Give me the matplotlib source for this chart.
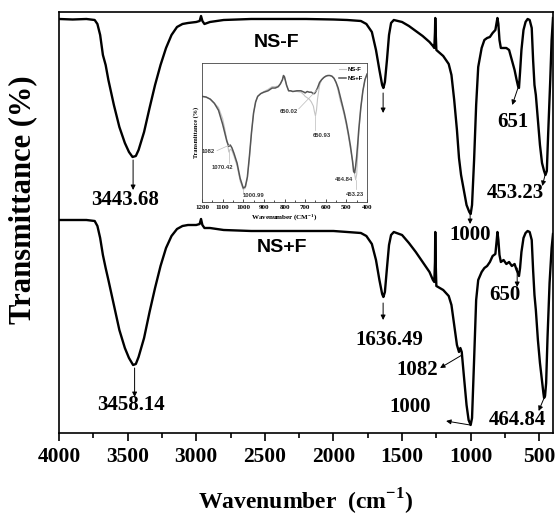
"""FTIR spectra of NS-F and NS+F with an inset zoom of the 1200-400 cm-1 region."""

import numpy as np
import matplotlib
matplotlib.use("Agg")
import matplotlib.pyplot as plt

plt.rcParams["mathtext.fontset"] = "custom"
plt.rcParams["mathtext.rm"] = "Liberation Serif"
plt.rcParams["mathtext.bf"] = "Liberation Serif:bold"

SERIF = "Liberation Serif"
SANS = "Liberation Sans"

# ---- main spectra (transmittance, arbitrary units) ----
wn_nsf = [4000, 3900, 3800, 3740, 3720, 3700, 3680, 3660, 3640, 3600, 3560, 3520,
          3490, 3464, 3440, 3420, 3380, 3340, 3300, 3260, 3220, 3180, 3140, 3100,
          3060, 3000, 2975, 2965, 2955, 2940, 2900, 2800, 2600, 2400, 2200, 2000,
          1900, 1800, 1760, 1720, 1690, 1665, 1645, 1636, 1625, 1610, 1595, 1580,
          1560, 1500, 1450, 1400, 1350, 1300, 1275, 1265, 1260, 1258, 1255, 1250,
          1200, 1160, 1140, 1120, 1100, 1085, 1070, 1050, 1030, 1010, 1000, 990,
          975, 960, 945, 920, 900, 880, 860, 840, 820, 810, 805, 798, 790, 780,
          760, 740, 720, 700, 680, 665, 655, 648, 640, 630, 615, 600, 585, 570,
          555, 545, 535, 525, 510, 495, 480, 465, 455, 445, 435, 420, 410, 400]
t_nsf = [414, 413.5, 414, 413, 409, 398, 378, 368, 353, 328, 306, 290,
         281, 276, 277, 283, 301, 325, 348, 368, 385, 398, 406, 409,
         410, 411, 412, 417, 412, 409, 411, 413, 414, 414, 414, 413.5,
         413, 412, 409, 401, 383, 363, 348, 345, 351, 373, 398, 410,
         413, 411, 407, 402, 397, 391, 387, 385, 401, 415, 401, 383,
         377, 369, 358, 333, 303, 275, 258, 243, 228, 221, 219, 228,
         273, 328, 366, 385, 393, 395, 396, 400, 403, 411, 415, 409, 393, 385,
         385, 385, 383, 373, 363, 353, 347, 345, 361, 383, 403, 411, 414, 413,
         405, 373, 348, 338, 313, 288, 270, 262, 258, 262, 300, 353, 393, 415]

wn_nspf = [4000, 3800, 3740, 3720, 3700, 3680, 3660, 3640, 3600, 3560, 3520, 3490,
           3460, 3440, 3420, 3380, 3340, 3300, 3260, 3220, 3180, 3140, 3100, 3060,
           3000, 2975, 2965, 2955, 2940, 2900, 2800, 2600, 2400, 2200, 2000, 1900,
           1800, 1760, 1720, 1690, 1665, 1645, 1636, 1625, 1610, 1595, 1580, 1560,
           1500, 1450, 1400, 1350, 1300, 1275, 1265, 1260, 1258, 1255, 1250, 1200,
           1160, 1140, 1120, 1100, 1085, 1075, 1065, 1050, 1030, 1015, 1000, 990,
           975, 960, 945, 920, 900, 880, 860, 840, 820, 810, 805, 798, 790, 780,
           760, 740, 720, 700, 680, 665, 655, 648, 640, 630, 615, 600, 585, 570,
           555, 545, 535, 525, 510, 495, 480, 470, 465, 458, 450, 440, 425, 410, 400]
t_nspf = [213, 213, 212, 207, 195, 178, 165, 153, 128, 103, 85, 75,
          68, 69, 76, 95, 121, 145, 167, 185, 197, 204, 207, 208,
          208, 209, 214, 208, 205, 205, 203, 202, 202, 202, 202, 201,
          200, 197, 189, 173, 153, 139, 136, 141, 165, 188, 198, 201,
          198, 190, 181, 171, 161, 153, 151, 171, 201, 171, 147, 143,
          137, 128, 108, 88, 81, 85, 81, 58, 28, 13, 8, 15,
          73, 133, 153, 161, 165, 167, 171, 177, 179, 193, 201, 193, 178, 171,
          173, 169, 171, 167, 169, 163, 160, 157, 165, 181, 195, 200, 202, 201,
          193, 163, 138, 123, 93, 70, 52, 40, 35, 37, 50, 95, 150, 185, 199]

# ---- inset spectra (1200-400 cm-1) ----
wn_inset = [1200, 1180, 1160, 1140, 1120, 1100, 1090, 1080, 1070, 1063, 1055, 1045,
            1030, 1015, 1000, 990, 980, 970, 960, 950, 940, 930, 915, 900, 880,
            860, 845, 830, 820, 810, 805, 800, 795, 790, 780, 770, 760, 740, 720,
            705, 700, 690, 680, 670, 660, 655, 650, 645, 640, 630, 620, 610, 600,
            590, 580, 570, 560, 550, 540, 530, 520, 510, 500, 490, 480, 470, 465,
            460, 455, 450, 445, 440, 430, 420, 410, 400]
inset_nspf = [76, 75.5, 74, 71, 66, 56, 50, 44, 40, 41, 39, 35,
              28, 17, 10, 11, 18, 33, 50, 64, 72, 76, 78, 79, 80,
              82, 82, 83, 85, 88, 91, 90, 87, 84, 80, 80, 79.5, 80, 80,
              79, 78.5, 79.5, 79, 79, 78, 78, 79, 80.5, 82, 86, 88, 89.5, 90.5,
              91, 91, 90.5, 89, 86, 82, 76, 70, 64, 57, 49, 40, 29, 22,
              21, 26, 33, 42, 52, 68, 80, 88, 92]
inset_nsf = [76, 75.5, 74, 71, 68, 60, 53, 45, 36, 38, 37, 33,
             26, 15, 9, 10, 17, 32, 50, 64, 72, 76, 78, 79.5, 81,
             83, 83, 83.5, 85, 88, 90.5, 89.5, 87, 84, 80, 80, 79.5, 79.5, 79,
             77, 76, 75, 74, 72, 69, 65, 62, 66, 74, 84, 88, 89.5, 90.5,
             91, 91, 90.5, 89, 86, 80, 73, 68, 62, 55, 47, 38, 30, 25,
             20, 16, 20, 35, 50, 68, 80, 88, 92]

x_ticks = [4000, 3500, 3000, 2500, 2000, 1500, 1000, 500]
inset_ticks = [1200, 1100, 1000, 900, 800, 700, 600, 500, 400]


def arrow(ax, tail, head, lw=0.7, scale=7, color="black"):
    ax.annotate("", xy=head, xytext=tail,
                arrowprops=dict(arrowstyle="-|>", lw=lw, color=color,
                                mutation_scale=scale, shrinkA=0, shrinkB=0))


fig = plt.figure(figsize=(5.56, 5.19), dpi=100)
ax = fig.add_axes([0.1061, 0.1657, 0.8885, 0.8112])

ax.plot(wn_nsf, t_nsf, color="black", lw=1.7)
ax.plot(wn_nspf, t_nspf, color="black", lw=1.7)

ax.set_xlim(4000, 400)
ax.set_ylim(0, 421)
ax.set_xticks(x_ticks)
ax.set_xticks(np.arange(3750, 400, -500), minor=True)
ax.set_yticks([])
ax.tick_params(axis="x", which="major", direction="out", length=6, width=1.2, pad=4)
ax.tick_params(axis="x", which="minor", direction="out", length=3.5, width=1.2)
for lbl in ax.get_xticklabels():
    lbl.set_fontfamily(SERIF)
    lbl.set_fontweight("bold")
    lbl.set_fontsize(15.5)
for sp in ax.spines.values():
    sp.set_linewidth(1.2)

ax.set_xlabel(r"Wavenumber  (cm$^{\mathbf{-1}}$)", fontfamily=SERIF,
              fontweight="bold", fontsize=17, labelpad=14)
ax.set_ylabel("Transmittance (%)", fontfamily=SERIF, fontweight="bold",
              fontsize=22)
ax.yaxis.set_label_coords(-0.044, 0.555)

ax.text(2412, 390, "NS-F", fontfamily=SANS, fontweight="bold", fontsize=14,
        ha="center", va="center")
ax.text(2376, 185, "NS+F", fontfamily=SANS, fontweight="bold", fontsize=14,
        ha="center", va="center")

lab = dict(fontfamily=SERIF, fontweight="bold", fontsize=15, ha="center", va="center")

# NS-F peaks
arrow(ax, (3460, 273), (3460, 243))
ax.text(3520, 233, "3443.68", **lab)
arrow(ax, (1638, 340), (1638, 320))
arrow(ax, (1004, 219), (1004, 209))
ax.text(1004, 198, "1000", **lab)
arrow(ax, (653, 346), (697, 328))
ax.text(690, 311, "651", **lab)
arrow(ax, (456, 259), (478, 247))
ax.text(675, 240, "453.23", **lab)

# NS+F peaks
arrow(ax, (3449, 65), (3449, 36))
ax.text(3478, 28, "3458.14", **lab)
arrow(ax, (1638, 130), (1638, 113))
ax.text(1595, 93, "1636.49", **lab)
arrow(ax, (1063, 78), (1223, 65))
ax.text(1391, 63, "1082", **lab)
arrow(ax, (1004, 8), (1179, 12))
ax.text(1441, 26, "1000", **lab)
arrow(ax, (661, 165), (661, 146))
ax.text(748, 138, "650", **lab)
arrow(ax, (468, 34), (505, 22))
ax.text(660, 13, "464.84", **lab)

# ---- inset ----
axin = fig.add_axes([0.3633, 0.6108, 0.2968, 0.2678])
axin.plot(wn_inset, inset_nsf, color="#c4c4c4", lw=0.8, label="NS-F")
axin.plot(wn_inset, inset_nspf, color="#555555", lw=1.1, label="NS+F")
axin.set_xlim(1200, 400)
axin.set_ylim(0, 100)
axin.set_xticks(inset_ticks)
axin.set_xticks(np.arange(1150, 400, -100), minor=True)
axin.set_yticks([])
axin.tick_params(axis="x", which="major", direction="in", length=2, width=0.5, pad=2)
axin.tick_params(axis="x", which="minor", direction="in", length=1.2, width=0.5)
for lbl in axin.get_xticklabels():
    lbl.set_fontfamily(SERIF)
    lbl.set_fontweight("bold")
    lbl.set_fontsize(5)
for sp in axin.spines.values():
    sp.set_linewidth(0.6)
    sp.set_color("#444444")
axin.set_xlabel(r"Wavenumber (CM$^{\mathbf{-1}}$)", fontfamily=SERIF,
                fontweight="bold", fontsize=5, labelpad=1.5)
axin.set_ylabel("Transmittance (%)", fontfamily=SERIF, fontweight="bold",
                fontsize=4.5, labelpad=2)
leg = axin.legend(loc="upper right", frameon=False, handlelength=1.2,
                  handletextpad=0.3, labelspacing=0.6, borderaxespad=0.3,
                  prop=dict(family=SANS, weight="bold", size=4.3))

small = dict(fontfamily=SANS, fontweight="bold", fontsize=4.2, ha="center",
             va="center", color="#333333")
thin = dict(color="#bbbbbb", lw=0.5)
axin.text(1168, 36, "1082", **small)
axin.plot([1127, 1066], [37, 41], **thin)
axin.text(1103, 25, "1070.42", **small)
axin.plot([1071, 1071], [28, 37], **thin)
axin.text(950, 5, "1000.99", **small)
axin.plot([1000, 1000], [6, 9], **thin)
axin.text(780, 65, "650.02", **small)
axin.plot([731, 634], [67, 82], **thin)
axin.text(618, 48, "650.93", **small)
axin.plot([651, 651], [52, 62], **thin)
axin.text(513, 16, "464.84", **small)
axin.text(457, 5.5, "453.23", **small)
axin.plot([453, 453], [9, 16], **thin)

fig.savefig("out.png", dpi=100, facecolor="white")
